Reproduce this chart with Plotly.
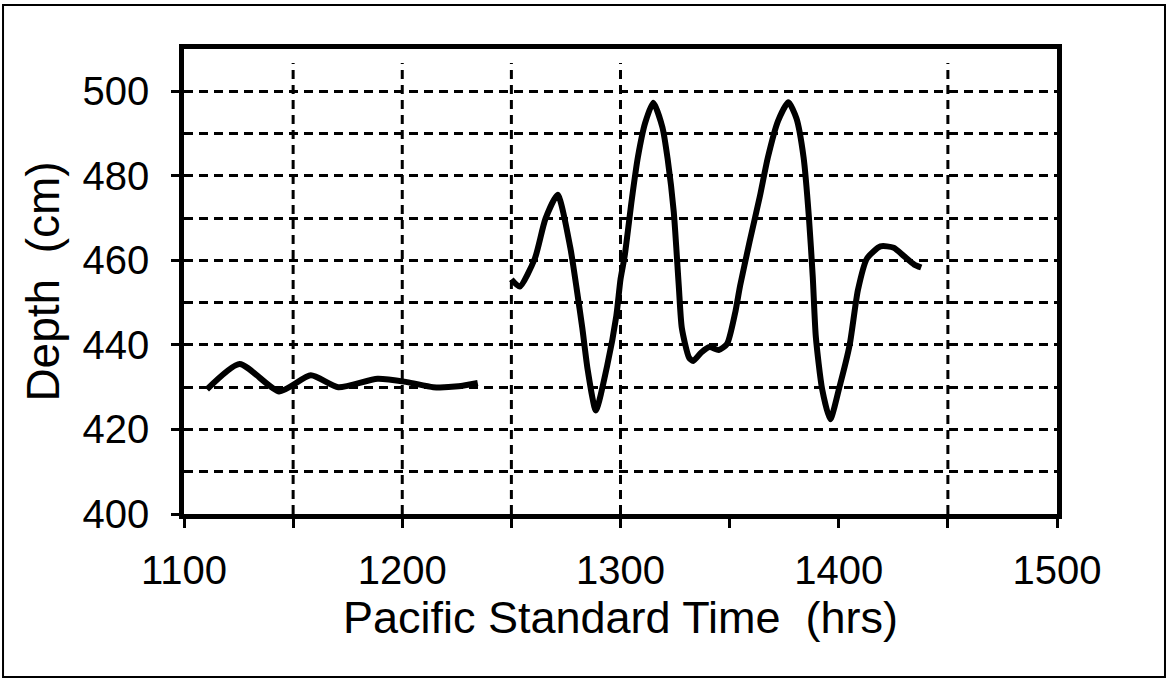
import plotly.graph_objects as go

# Depth record, first (quiet) interval
quiet_time = [1110.5, 1125.5, 1143.6, 1158.1, 1170.7, 1188.7, 1202.2, 1214.2, 1225.7, 1234.6]
quiet_depth = [429.5, 435.5, 429.0, 432.8, 430.0, 432.0, 431.2, 430.0, 430.2, 431.0]

# Depth record, second (oscillating) interval
wave_time = [1250.0, 1253.8, 1260.8, 1265.6, 1271.2, 1277.0, 1280.0, 1282.5, 1285.0, 1288.7,
             1293.9, 1298.1, 1300.0, 1301.9, 1305.2, 1308.0, 1311.3, 1315.0, 1319.2, 1321.6,
             1324.4, 1326.7, 1328.1, 1331.4, 1333.3, 1337.0, 1340.8, 1345.0, 1348.8, 1352.5,
             1354.8, 1359.1, 1363.8, 1367.5, 1372.2, 1376.9, 1380.6, 1383.9, 1386.3, 1388.1,
             1389.5, 1392.4, 1396.1, 1400.3, 1405.0, 1408.8, 1413.0, 1419.1, 1425.2, 1429.9,
             1434.6, 1437.8]
wave_depth = [455.5, 453.8, 460.5, 469.8, 475.5, 463.0, 453.0, 444.0, 434.0, 424.5,
              435.1, 446.9, 455.5, 461.0, 474.5, 484.5, 492.5, 497.3, 491.5, 484.0,
              471.5, 454.0, 444.0, 437.0, 436.2, 438.2, 439.5, 438.8, 440.2, 447.5,
              454.0, 464.3, 475.0, 484.3, 493.0, 497.4, 493.6, 484.3, 470.4, 456.0,
              441.9, 429.5, 422.4, 430.0, 440.0, 453.0, 460.5, 463.3, 463.0, 461.0,
              459.0, 458.3]

# Axis ticks and the vertical grid lines that are drawn
x_tick_vals = [1100, 1150, 1200, 1250, 1300, 1350, 1400, 1450, 1500]
x_tick_text = ["1100", "", "1200", "", "1300", "", "1400", "", "1500"]
y_tick_vals = [400, 420, 440, 460, 480, 500]
x_grid = [1150, 1200, 1250, 1300, 1450]

FONT = "Liberation Sans, Arial, Helvetica, sans-serif"
DASH = "9px,6px"
GRID_W = 3

fig = go.Figure()
for t, d in ((quiet_time, quiet_depth), (wave_time, wave_depth)):
    fig.add_trace(go.Scatter(
        x=t, y=d, mode="lines",
        line=dict(color="black", width=6, shape="spline", smoothing=0.6),
        showlegend=False, hoverinfo="x+y",
    ))

shapes = []
for gx in x_grid:
    shapes.append(dict(type="line", xref="x", yref="paper", x0=gx, x1=gx, y0=0, y1=0.97,
                       line=dict(color="black", width=GRID_W, dash=DASH), layer="below"))
# outer frame around the whole figure
shapes.append(dict(type="rect", xref="paper", yref="paper",
                   x0=-0.2073, x1=1.1237, y0=-0.3505, y1=1.0946,
                   line=dict(color="black", width=2)))

fig.update_layout(
    width=1170, height=679,
    margin=dict(l=184, r=113, t=49, b=165),
    paper_bgcolor="white", plot_bgcolor="white",
    font=dict(family=FONT, color="black"),
    shapes=shapes,
    xaxis=dict(
        range=[1100, 1500], tickvals=x_tick_vals, ticktext=x_tick_text,
        ticks="outside", ticklen=9, tickwidth=2.5, tickcolor="black",
        tickfont=dict(size=40, family=FONT), ticklabelstandoff=8,
        showgrid=False, zeroline=False,
        showline=True, linewidth=4.5, linecolor="black", mirror=True,
        title=dict(text="Pacific Standard Time  (hrs)", font=dict(size=45, family=FONT), standoff=6),
    ),
    yaxis=dict(
        range=[400, 510], tickvals=y_tick_vals,
        ticks="outside", ticklen=8, tickwidth=2.5, tickcolor="black",
        tickfont=dict(size=40, family=FONT), ticklabelstandoff=14,
        showgrid=True, gridcolor="black", gridwidth=GRID_W, griddash=DASH,
        minor=dict(dtick=10, showgrid=True, gridcolor="black", gridwidth=GRID_W,
                   griddash=DASH, ticks=""),
        zeroline=False,
        showline=True, linewidth=4.5, linecolor="black", mirror=True,
        title=dict(text="Depth  (cm)", font=dict(size=46, family=FONT), standoff=10),
    ),
)

fig.write_html("out.html")
